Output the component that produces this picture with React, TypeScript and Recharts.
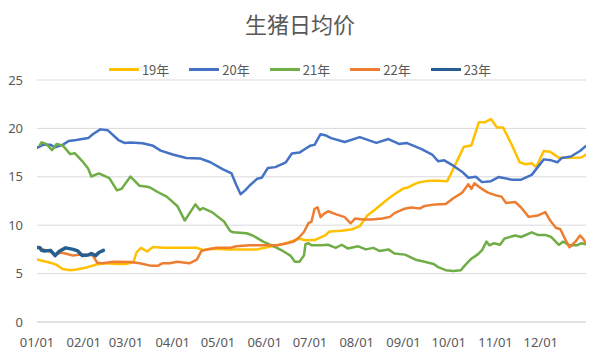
import React from "react";
import { LineChart, Line, XAxis, YAxis, CartesianGrid, Legend } from "recharts";

const monthTicks = [0, 31, 59, 90, 120, 151, 181, 212, 243, 273, 304, 334];
const monthLabels = ["01/01", "02/01", "03/01", "04/01", "05/01", "06/01", "07/01", "08/01", "09/01", "10/01", "11/01", "12/01"];
const yTicks = [0, 5, 10, 15, 20, 25];

const y19Days = [0,4,9,13,17,22,26,33,40,46,53,59,64,66,69,73,77,84,95,106,110,115,128,146,155,163,168,174,178,184,191,194,202,209,214,219,224,231,236,243,246,251,254,260,266,272,275,279,283,288,293,297,301,305,309,315,320,324,328,331,336,340,346,352,361,364];
const y19Vals = [6.45,6.3,6.12,5.9,5.48,5.35,5.42,5.64,5.96,6.06,6.0,6.0,6.2,7.2,7.66,7.28,7.76,7.66,7.66,7.66,7.44,7.56,7.5,7.5,7.8,8.04,8.3,8.6,8.45,8.46,8.94,9.36,9.42,9.58,9.9,11.0,11.6,12.5,13.1,13.8,13.9,14.3,14.45,14.6,14.6,14.55,15.5,16.8,18.1,18.24,20.64,20.64,20.96,20.1,20.1,18.24,16.5,16.3,16.4,16.0,17.66,17.6,16.96,16.96,17.0,17.3];

const y20Days = [0,4,9,12,17,21,26,34,37,42,47,54,58,62,70,77,82,90,99,108,115,123,129,132,135,138,141,146,149,153,158,165,169,174,179,181,184,188,191,195,204,214,225,233,240,245,255,262,266,270,276,282,286,291,295,301,306,315,321,328,332,336,341,345,348,354,360,364];
const y20Vals = [18.0,18.3,18.3,18.05,18.3,18.7,18.8,19.0,19.4,19.9,19.8,18.8,18.5,18.55,18.46,18.2,17.7,17.3,16.95,16.9,16.5,15.8,15.35,14.2,13.2,13.6,14.1,14.8,14.9,15.9,16.0,16.5,17.4,17.5,18.0,18.2,18.3,19.4,19.3,19.0,18.6,19.1,18.5,18.9,18.4,18.5,17.85,17.3,16.6,16.7,16.15,15.5,14.9,15.0,14.45,14.55,14.97,14.7,14.7,15.2,16.0,16.8,16.7,16.5,16.95,17.1,17.66,18.2];

const y21Days = [2,3,6,10,13,17,22,25,30,34,36,41,48,53,56,62,68,73,75,80,86,93,98,101,105,108,110,116,124,128,130,139,143,150,157,163,168,171,174,177,178,180,182,188,193,198,202,206,213,218,223,227,233,237,244,251,257,263,266,271,276,281,284,288,292,295,298,300,303,307,310,317,321,328,332,337,341,346,349,353,358,361,364];
const y21Vals = [18.3,18.56,18.4,17.76,18.4,18.24,17.34,17.44,16.63,15.83,15.03,15.35,14.87,13.6,13.75,15.03,14.07,13.97,13.9,13.43,12.95,11.99,10.48,11.19,12.15,11.57,11.77,11.35,10.38,9.42,9.26,9.17,8.94,8.3,7.82,7.34,6.86,6.22,6.22,6.86,8.04,8.14,7.92,7.92,7.98,7.66,7.98,7.6,7.82,7.5,7.66,7.34,7.5,7.08,6.96,6.44,6.22,6.0,5.67,5.35,5.26,5.35,5.9,6.54,6.96,7.4,8.3,7.92,8.14,7.98,8.62,8.94,8.78,9.26,9.0,9.0,8.78,7.98,8.3,7.92,7.92,8.14,8.04];

const y22Days = [1,4,9,12,16,20,24,28,34,37,40,43,51,62,68,76,80,83,88,93,101,106,109,113,119,128,132,141,150,159,166,170,174,177,180,182,184,186,188,190,193,198,204,208,211,216,222,229,234,237,243,248,254,257,264,271,276,282,286,288,290,295,299,304,308,311,317,321,326,332,337,340,344,347,350,353,357,360,362,364];
const y22Vals = [7.72,7.5,7.24,6.96,7.18,7.02,6.86,6.96,6.96,6.86,6.12,6.06,6.22,6.19,6.06,5.8,5.8,6.06,6.06,6.22,6.06,6.44,7.34,7.5,7.66,7.66,7.82,7.92,7.92,7.92,8.14,8.3,8.78,9.3,10.22,10.38,11.67,11.86,10.83,11.15,11.44,11.15,10.83,10.2,10.7,10.6,10.6,10.7,10.86,11.25,11.67,11.83,11.73,11.99,12.15,12.2,12.79,13.37,14.23,13.75,14.33,13.75,13.37,13.1,12.95,12.3,12.4,11.83,10.86,11.0,11.35,10.54,9.74,9.58,8.62,7.72,8.3,8.94,8.62,8.14];

const y23Days = [0,2,3,5,9,12,15,19,24,27,30,34,36,39,41,44];
const y23Vals = [7.7,7.66,7.4,7.34,7.4,6.86,7.34,7.66,7.5,7.34,6.86,6.92,7.08,6.86,7.18,7.4];

const seriesNames = ["19年", "20年", "21年", "22年", "23年"];
const seriesColors = ["#FFC000", "#4472C4", "#70AD47", "#ED7D31", "#255E91"];
const seriesWidths = [2.5, 2.5, 2.5, 2.5, 3.5];

const zip = (days: number[], vals: number[]) => days.map((d, i) => ({ d, v: vals[i] }));
const seriesData = [
  zip(y19Days, y19Vals),
  zip(y20Days, y20Vals),
  zip(y21Days, y21Vals),
  zip(y22Days, y22Vals),
  zip(y23Days, y23Vals),
];

const textColor = "#595959";
const numFont = "'Noto Sans', 'Liberation Sans', sans-serif";

const LegendContent = () => (
  <div style={{ display: "flex", justifyContent: "center", alignItems: "center", fontFamily: "'Noto Sans CJK SC', sans-serif", fontSize: 13, color: textColor }}>
    {seriesNames.map((n, i) => (
      <div key={n} style={{ display: "flex", alignItems: "center", marginRight: i < 4 ? 20 : 0 }}>
        <div style={{ width: 30, height: 3, background: seriesColors[i], marginRight: 3 }} />
        <span>{n}</span>
      </div>
    ))}
  </div>
);

export default function App() {
  return (
    <div style={{ position: "absolute", left: 0, top: 0, width: 600, height: 358, background: "#fff" }}>
      <div style={{ position: "absolute", left: 0, top: 8, width: 600, textAlign: "center", fontFamily: "'Noto Sans CJK SC', sans-serif", fontSize: 22, color: textColor, lineHeight: "30px" }}>
        生猪日均价
      </div>
      <LineChart width={600} height={358} margin={{ top: 61, right: 14, bottom: 6, left: 0 }}>
        <CartesianGrid horizontal vertical={false} stroke="#D9D9D9" />
        <XAxis
          type="number"
          dataKey="d"
          domain={[0, 364]}
          ticks={monthTicks}
          tickFormatter={(v: number) => monthLabels[monthTicks.indexOf(v)] ?? ""}
          axisLine={{ stroke: "#D9D9D9" }}
          tickLine={false}
          tick={{ fill: textColor, fontSize: 13, fontFamily: numFont }}
          tickMargin={10}
          height={30}
          interval={0}
          allowDataOverflow
        />
        <YAxis
          type="number"
          domain={[0, 25]}
          ticks={yTicks}
          axisLine={false}
          tickLine={false}
          tick={{ fill: textColor, fontSize: 13, fontFamily: numFont }}
          width={37}
          tickMargin={8}
        />
        <Legend verticalAlign="top" content={<LegendContent />} wrapperStyle={{ top: 60, left: 0, width: 600 }} />
        {seriesData.map((data, i) => (
          <Line
            key={seriesNames[i]}
            data={data}
            dataKey="v"
            name={seriesNames[i]}
            type="linear"
            stroke={seriesColors[i]}
            strokeWidth={seriesWidths[i]}
            dot={false}
            activeDot={false}
            isAnimationActive={false}
            strokeLinejoin="round"
            strokeLinecap="round"
          />
        ))}
      </LineChart>
    </div>
  );
}
